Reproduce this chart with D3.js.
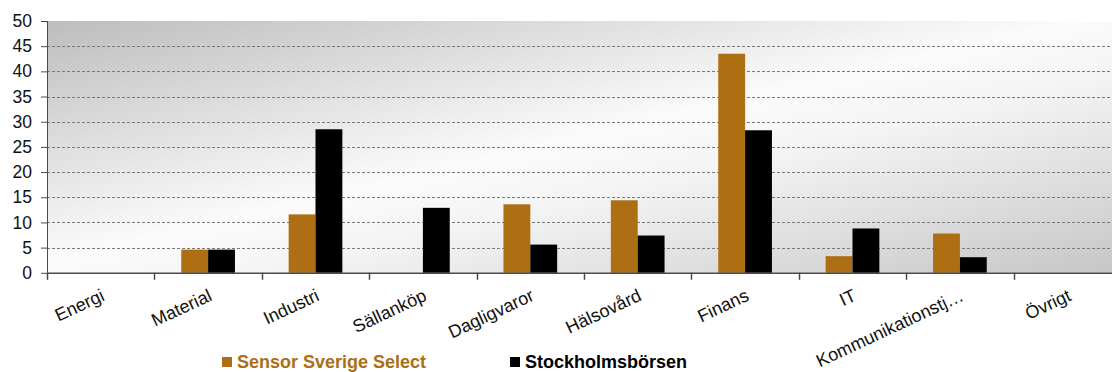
<!DOCTYPE html>
<html>
<head>
<meta charset="utf-8">
<script src="https://cdn.jsdelivr.net/npm/d3@7"></script>
<style>
  html, body { margin: 0; padding: 0; background: #fff; }
  svg { display: block; font-family: Arial, "Liberation Sans", sans-serif; }
</style>
</head>
<body>
<script>
// sektorfördelning, procent
let categories = ['Energi', 'Material', 'Industri', 'Sällanköp', 'Dagligvaror',
    'Hälsovård', 'Finans', 'IT', 'Kommunikationstj…', 'Övrigt'];
let seriesNames = ['Sensor Sverige Select', 'Stockholmsbörsen'];
let sensorValues = [0, 4.6, 11.6, 0, 13.6, 14.4, 43.5, 3.3, 7.8, 0];
let borsenValues = [0, 4.6, 28.5, 12.9, 5.6, 7.4, 28.3, 8.8, 3.1, 0];
let yTicks = [0, 5, 10, 15, 20, 25, 30, 35, 40, 45, 50];

let colors = ['#ad6e14', '#000000'];

let W = 1112, H = 372;
let margin = {top: 21, left: 47, bottom: 372 - 272.8};
let plotRight = 1121; // plot runs a little past the picture edge

let svg = d3.select('body').append('svg')
    .attr('width', W)
    .attr('height', H);

let x = d3.scaleBand()
    .domain(categories)
    .range([margin.left, plotRight])
    .padding(0);

let xSub = d3.scaleBand()
    .domain(seriesNames)
    .range([0, x.bandwidth()])
    .paddingInner(0)
    .paddingOuter(1);

let y = d3.scaleLinear()
    .domain([0, 50])
    .range([H - margin.bottom, margin.top]);

// background gradient of the plot area
let defs = svg.append('defs');
let grad = defs.append('linearGradient')
    .attr('id', 'bg')
    .attr('x1', 0).attr('y1', 0)
    .attr('x2', 1).attr('y2', 1);
grad.append('stop').attr('offset', '0%').attr('stop-color', '#bdbdbd');
grad.append('stop').attr('offset', '48%').attr('stop-color', '#fbfbfb');
grad.append('stop').attr('offset', '60%').attr('stop-color', '#f4f4f4');
grad.append('stop').attr('offset', '100%').attr('stop-color', '#c6c6c6');

svg.append('rect')
    .attr('x', margin.left)
    .attr('y', y(50))
    .attr('width', plotRight - margin.left)
    .attr('height', y(0) - y(50))
    .attr('fill', 'url(#bg)');

// dashed grid lines
svg.append('g')
    .selectAll('line')
    .data(yTicks.filter(d => d > 0 && d < 50))
    .join('line')
    .attr('x1', margin.left)
    .attr('x2', plotRight)
    .attr('y1', d => Math.round(y(d)) + 0.5)
    .attr('y2', d => Math.round(y(d)) + 0.5)
    .attr('stroke', '#7a7a7a')
    .attr('stroke-width', 1)
    .attr('stroke-dasharray', '3,2');

// bars
let groups = svg.append('g')
    .selectAll('g')
    .data(categories)
    .join('g')
    .attr('transform', d => 'translate(' + x(d) + ',0)');

groups.selectAll('rect')
    .data((d, i) => [
        {key: seriesNames[0], value: sensorValues[i]},
        {key: seriesNames[1], value: borsenValues[i]}
    ])
    .join('rect')
    .attr('x', d => xSub(d.key))
    .attr('y', d => y(d.value))
    .attr('width', xSub.bandwidth())
    .attr('height', d => y(0) - y(d.value))
    .attr('fill', (d, i) => colors[i]);

// y axis
let yAxis = svg.append('g')
    .attr('transform', 'translate(' + margin.left + ',0)')
    .call(d3.axisLeft(y).tickValues(yTicks).tickSize(6).tickPadding(9));
yAxis.select('.domain').attr('stroke', '#4a4a4a').attr('d', 'M0.5,' + y(0) + 'V' + y(50));
yAxis.selectAll('.tick line').attr('stroke', '#4a4a4a');
yAxis.selectAll('.tick text')
    .attr('fill', '#111')
    .style('font-size', '17.5px')
    .style('font-family', 'Arial, "Liberation Sans", sans-serif');

// x axis line and ticks at band edges
let xg = svg.append('g');
xg.append('line')
    .attr('x1', margin.left)
    .attr('x2', plotRight)
    .attr('y1', y(0) + 0.5)
    .attr('y2', y(0) + 0.5)
    .attr('stroke', '#4a4a4a')
    .attr('stroke-width', 1.5);
xg.selectAll('line.tk')
    .data(categories)
    .join('line')
    .attr('class', 'tk')
    .attr('x1', d => Math.round(x(d)) + 0.5)
    .attr('x2', d => Math.round(x(d)) + 0.5)
    .attr('y1', y(0))
    .attr('y2', y(0) + 7)
    .attr('stroke', '#4a4a4a')
    .attr('stroke-width', 1.5);

// rotated category labels
xg.selectAll('text')
    .data(categories)
    .join('text')
    .attr('text-anchor', 'end')
    .attr('transform', d => 'translate(' + (x(d) + x.bandwidth() / 2 + 5) + ',' + (y(0) + 27) + ') rotate(-25)')
    .attr('fill', '#111')
    .style('font-size', '18px')
    .text(d => d);

// legend
let legendX = [222, 510];
let legend = svg.append('g')
    .selectAll('g')
    .data(seriesNames)
    .join('g')
    .attr('transform', (d, i) => 'translate(' + legendX[i] + ',357)');

legend.append('rect')
    .attr('width', 10)
    .attr('height', 10)
    .attr('fill', (d, i) => colors[i]);

legend.append('text')
    .attr('x', 15)
    .attr('y', 11)
    .attr('fill', (d, i) => colors[i])
    .style('font-size', '18px')
    .style('font-weight', 'bold')
    .text(d => d);
</script>
</body>
</html>
